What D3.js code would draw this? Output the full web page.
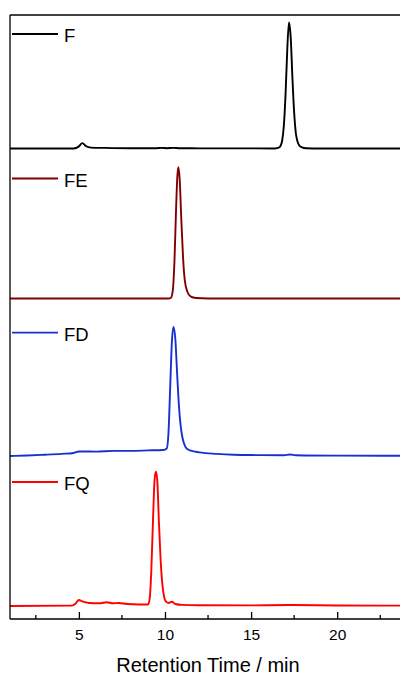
<!DOCTYPE html>
<html><head><meta charset="utf-8">
<script src="https://cdn.jsdelivr.net/npm/d3@7"></script>
<style>body{margin:0;background:#fff}svg{display:block}</style>
</head><body>
<svg id="c" width="400" height="677"></svg>
<script>
const seriesNames = ["F", "FE", "FD", "FQ"];
const seriesColors = ["#000000", "#800000", "#1a2fd0", "#ff0000"];
const seriesOffsets = [3.05, 2.05, 1.0, 0];

const timeF = [1, 4.7, 5.0, 5.2, 5.4, 5.7, 6.5, 8, 9.5, 9.8, 10.1, 10.5, 10.8, 12, 14, 16.4, 16.6, 16.7, 16.8, 16.9, 17.0, 17.1, 17.2, 17.3, 17.4, 17.5, 17.6, 17.7, 17.8, 17.95, 18.2, 19, 21, 23.7];
const valF  = [0, 0, 0.014, 0.036, 0.017, 0.006, 0.004, 0.002, 0.002, 0.004, 0.002, 0.004, 0.002, 0.001, 0.001, 0, 0.005, 0.015, 0.05, 0.15, 0.36, 0.66, 0.84, 0.74, 0.47, 0.24, 0.1, 0.045, 0.02, 0.008, 0.002, 0, 0, 0];

const timeFE = [1, 5, 8, 10.2, 10.35, 10.45, 10.55, 10.65, 10.72, 10.78, 10.85, 10.95, 11.05, 11.15, 11.3, 11.5, 11.8, 12.5, 16, 23.7];
const valFE  = [0, 0, 0, 0, 0.005, 0.05, 0.25, 0.62, 0.82, 0.875, 0.8, 0.52, 0.27, 0.12, 0.045, 0.012, 0.003, 0, 0, 0];

const timeFD = [1, 2, 3, 4, 4.7, 5.0, 5.3, 6, 7, 8, 9, 9.9, 10.1, 10.2, 10.3, 10.4, 10.49, 10.6, 10.7, 10.8, 10.9, 11.0, 11.1, 11.25, 11.5, 12, 13, 14, 15, 16.9, 17.25, 17.6, 20, 23.7];
const valFD  = [0, 0.003, 0.008, 0.014, 0.02, 0.03, 0.03, 0.029, 0.034, 0.034, 0.037, 0.04, 0.05, 0.15, 0.45, 0.76, 0.86, 0.78, 0.56, 0.35, 0.21, 0.13, 0.085, 0.05, 0.035, 0.024, 0.014, 0.008, 0.006, 0.005, 0.01, 0.005, 0.002, 0.001];

const timeFQ = [1, 4.6, 4.8, 5.0, 5.2, 5.6, 6.2, 6.6, 7.0, 7.3, 7.8, 8.5, 9.0, 9.1, 9.2, 9.3, 9.4, 9.47, 9.55, 9.65, 9.75, 9.85, 9.95, 10.05, 10.2, 10.4, 10.6, 11, 12, 15, 17.2, 20, 23.7];
const valFQ  = [0, 0.002, 0.015, 0.04, 0.03, 0.02, 0.018, 0.025, 0.018, 0.02, 0.013, 0.01, 0.01, 0.04, 0.22, 0.56, 0.85, 0.895, 0.84, 0.55, 0.3, 0.14, 0.06, 0.03, 0.02, 0.028, 0.013, 0.007, 0.005, 0.004, 0.006, 0.003, 0.002];

const xTicks = [5, 10, 15, 20];
const xMinorTicks = [2.5, 7.5, 12.5, 17.5, 22.5];
const xLabel = "Retention Time / min";

const times = [timeF, timeFE, timeFD, timeFQ];
const vals = [valF, valFE, valFD, valFQ];

const FONT = "Liberation Sans, Arial, sans-serif";
const svg = d3.select("#c");
const pL = 10, pR = 403, pT = 15, pB = 619;
const x = d3.scaleLinear().domain([1.0, 23.82]).range([pL, pR]);
const y = d3.scaleLinear().domain([-0.087, 3.94]).range([pB, pT]);

const line = d3.line().x(d => x(d[0])).y(d => y(d[1])).curve(d3.curveMonotoneX);
const legendShift = [-114.5, -120, -123.3, -124];

seriesNames.forEach((name, i) => {
  const pts = times[i].map((t, k) => [t, vals[i][k] + seriesOffsets[i]]);
  svg.append("path").attr("d", line(pts)).attr("fill", "none")
    .attr("stroke", seriesColors[i]).attr("stroke-width", 1.9).attr("stroke-linejoin", "round");
  const ly = y(seriesOffsets[i]) + legendShift[i];
  svg.append("line").attr("x1", 12).attr("x2", 58).attr("y1", ly).attr("y2", ly)
    .attr("stroke", seriesColors[i]).attr("stroke-width", 1.9);
  svg.append("text").attr("x", 64).attr("y", ly + 8.4).text(name)
    .attr("font-family", FONT).attr("font-size", 18.5).attr("fill", "#000");
});

svg.append("line").attr("x1", pL).attr("x2", pR).attr("y1", pT).attr("y2", pT).attr("stroke", "#000").attr("stroke-width", 1.3);
svg.append("line").attr("x1", pL).attr("x2", pL).attr("y1", pT).attr("y2", pB).attr("stroke", "#000").attr("stroke-width", 1.3);

const xAxis = d3.axisBottom(x).tickValues(xTicks).tickSizeInner(-7).tickSizeOuter(0).tickPadding(10);
const gx = svg.append("g").attr("transform", `translate(0,${pB})`).call(xAxis);
gx.select(".domain").attr("stroke-width", 1.3).attr("d", `M${pL},0H${pR}`);
gx.selectAll(".tick line").attr("stroke-width", 1.3);
gx.selectAll(".tick text").attr("font-family", FONT).attr("font-size", 15.5).attr("fill", "#000");
gx.selectAll(".minor").data(xMinorTicks).enter().append("line").attr("class", "minor")
  .attr("x1", d => x(d)).attr("x2", d => x(d)).attr("y1", 0).attr("y2", -4).attr("stroke", "#000").attr("stroke-width", 1.3);

svg.append("text").attr("x", 208).attr("y", 672).attr("text-anchor", "middle").text(xLabel)
  .attr("font-family", FONT).attr("font-size", 20).attr("fill", "#000");
</script>
</body></html>
